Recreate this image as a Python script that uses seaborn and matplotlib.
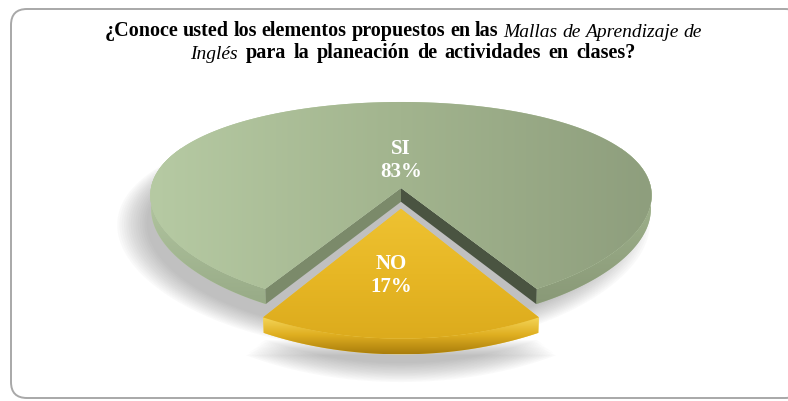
import numpy as np
import matplotlib
matplotlib.use("Agg")
import matplotlib.pyplot as plt
from matplotlib.patches import Polygon, FancyBboxPatch
from matplotlib.colors import LinearSegmentedColormap
import seaborn as sns

# data
labels = ["SI", "NO"]
values = [83, 17]
explode = [0.0, 0.2]
title_line1 = [("¿Conoce usted los elementos propuestos en las", "normal"),
               ("Mallas de Aprendizaje de", "italic")]
title_line2 = [("Inglés", "italic"),
               ("para la planeación de actividades en clases?", "normal")]

sns.set_theme(style="white")
plt.rcParams["font.family"] = ["Liberation Serif", "DejaVu Serif"]

W, HP = 788, 402
fig = plt.figure(figsize=(W / 100, HP / 100), dpi=100)
ax = fig.add_axes([0, 0, 1, 1])
ax.axis("off")

# tilted disc, strong depth in y and mild in x (like the office 3d pie)
ELEV = np.radians(30)
SE, CE = np.sin(ELEV), np.cos(ELEV)
DY, FY = 6 * CE, 1043
DX, FX = 12, 3000
CX, CY = 401, 189
THICK = 0.08


def proj(u, v, h):
    u, v, h = np.broadcast_arrays(np.asarray(u, float), np.asarray(v, float), np.asarray(h, float))
    yc = v * SE + h * CE
    return np.column_stack([CX + FX * u / (DX + v * CE - h * SE),
                            CY - FY * yc / (DY + v * CE - h * SE)])


frac = np.array(values) / sum(values)
span = 360 * frac
# NO wedge faces the viewer, SI takes the rest
starts = [-90 + span[1] / 2, -90 - span[1] / 2]


def offset(i):
    mid = np.radians(starts[i] + span[i] / 2)
    return explode[i] * np.cos(mid), explode[i] * np.sin(mid)


def arc(t0, t1, n=240):
    return np.radians(np.linspace(t0, t1, n))


def top_face(i, h=0.0, r=1.0, t0=None, t1=None, shift=(0, 0), apex=True):
    ox, oy = offset(i)
    ox, oy = ox + shift[0], oy + shift[1]
    t0 = starts[i] if t0 is None else t0
    t1 = starts[i] + span[i] if t1 is None else t1
    t = arc(t0, t1)
    u = ox + r * np.cos(t)
    v = oy + r * np.sin(t)
    if apex:
        u = np.concatenate([[ox], u])
        v = np.concatenate([[oy], v])
    return proj(u, v, h)


def side(i, t0, t1):
    ox, oy = offset(i)
    t = arc(t0, t1)
    top = proj(ox + np.cos(t), oy + np.sin(t), 0)
    bot = proj(ox + np.cos(t), oy + np.sin(t), -THICK)
    return np.vstack([top, bot[::-1]])


def wall(i, ang):
    ox, oy = offset(i)
    a = np.radians(ang)
    u = [ox, ox + np.cos(a), ox + np.cos(a), ox]
    v = [oy, oy + np.sin(a), oy + np.sin(a), oy]
    return proj(u, v, [0, 0, -THICK, -THICK])


def shaded(xy, colors, axis, z):
    poly = Polygon(xy, closed=True, facecolor=colors[0], edgecolor="none", zorder=z)
    ax.add_patch(poly)
    cmap = LinearSegmentedColormap.from_list("g", colors)
    x0, y0 = xy.min(0)
    x1, y1 = xy.max(0)
    g = np.linspace(0, 1, 256)
    img = g[None, :] if axis == "x" else g[:, None]
    im = ax.imshow(img, cmap=cmap, extent=(x0, x1, y1, y0), origin="upper",
                   aspect="auto", interpolation="bilinear", zorder=z + 0.01)
    im.set_clip_path(poly)


# frame
ax.add_patch(FancyBboxPatch((11, 10), 790, 389, boxstyle="round,pad=0,rounding_size=16",
                            facecolor="white", edgecolor="#a8a8a8", lw=1.4, zorder=0))

# soft shadow on the ground, light from the upper right
sh = (-0.07, -0.02)
for k in range(14):
    r = 0.95 + 0.009 * k
    ax.add_patch(Polygon(top_face(0, h=-0.15, r=r, t0=0, t1=360, shift=sh), closed=True,
                         facecolor="#6e6e6e", edgecolor="none", alpha=0.035, zorder=1))
    ax.add_patch(Polygon(top_face(1, h=-0.15, r=r, t0=starts[1] - 2, t1=starts[1] + span[1] + 2,
                                  shift=(0.0, -0.02), apex=False), closed=True,
                         facecolor="#6e6e6e", edgecolor="none", alpha=0.035, zorder=1))

# SI body
si_end = starts[0] + span[0]
shaded(side(0, starts[0], 25), ["#a9bc96", "#899977"], "y", 2)
shaded(side(0, 155, si_end), ["#bdd1ab", "#98ab87"], "y", 2)
ax.add_patch(Polygon(wall(0, si_end), closed=True, facecolor="#7b8a6a", edgecolor="none", zorder=3))
ax.add_patch(Polygon(wall(0, starts[0]), closed=True, facecolor="#4a5441", edgecolor="none", zorder=3))
shaded(top_face(0), ["#b6caa3", "#a2b48e", "#8e9e7d"], "x", 4)

# NO body (pulled out)
shaded(side(1, starts[1], starts[1] + span[1]), ["#f6d85c", "#dfae20", "#a97d0c"], "y", 5)
shaded(top_face(1), ["#eec232", "#e7b725", "#dcab1d"], "y", 6)

# labels
label_r = [0.3, 0.55]
label_du = [0.0, -0.035]
for i in range(2):
    ox, oy = offset(i)
    mid = np.radians(starts[i] + span[i] / 2)
    (x, y), = proj(ox + label_du[i] + label_r[i] * np.cos(mid), oy + label_r[i] * np.sin(mid), 0)
    ax.text(x, y, f"{labels[i]}\n{values[i]}%", ha="center", va="center", color="white",
            fontsize=15, fontweight="bold", linespacing=1.2, zorder=8)


# title with mixed styles, word by word
def title_line(parts, y, gap):
    items = []
    prev = None
    for text, style in parts:
        for word in text.split(" "):
            kw = dict(fontsize=14.5 if style == "normal" else 14,
                      fontweight="bold" if style == "normal" else "normal",
                      fontstyle=style, color="black", va="bottom", ha="left", zorder=9)
            if prev is None:
                prev = ax.text(0, y, word, **kw)
            else:
                prev = ax.annotate(word, xy=(1, 0), xycoords=prev, xytext=(gap, 0),
                                   textcoords="offset points", **kw)
            items.append(prev)
    return items


ax.set_xlim(0, W)
ax.set_ylim(HP, 0)
lines = [(title_line(title_line1, 41, 3.4), 403), (title_line(title_line2, 63, 5.4), 413)]
fig.canvas.draw()
r = fig.canvas.get_renderer()
for items, xc in lines:
    x0 = items[0].get_window_extent(r).x0
    x1 = items[-1].get_window_extent(r).x1
    shift = xc - (x0 + x1) / 2
    px, py = items[0].get_position()
    items[0].set_position((px + shift, py))

ax.set_xlim(0, W)
ax.set_ylim(HP, 0)
fig.savefig("out.png", dpi=100)
